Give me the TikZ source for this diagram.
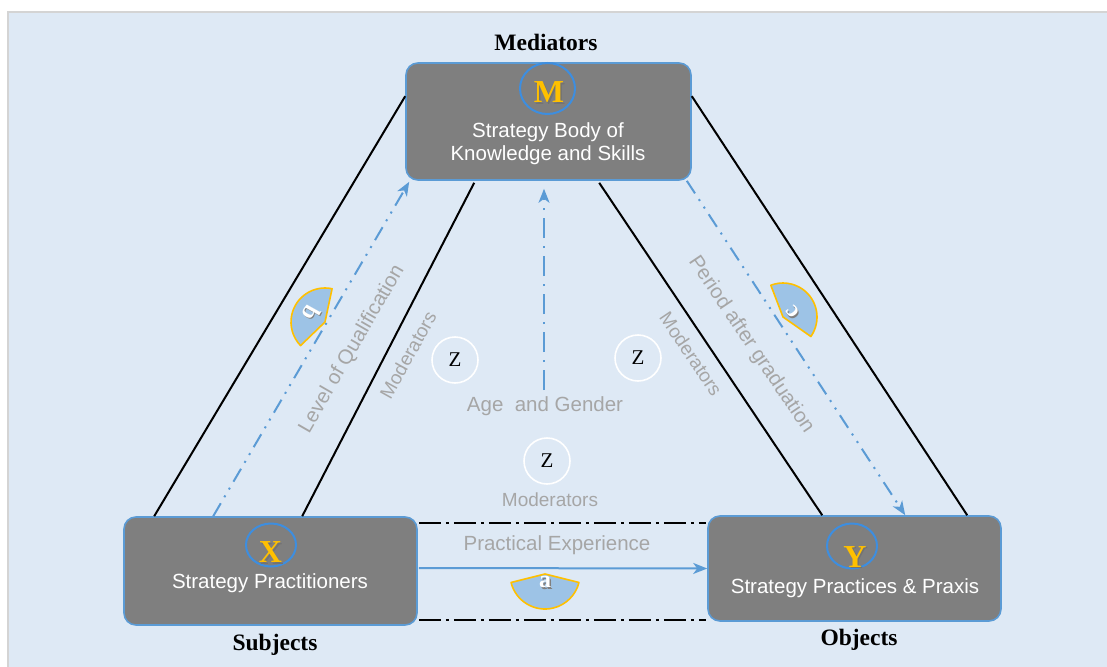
\documentclass[tikz,border=0pt]{standalone}
\usepackage{fontspec}
\setmainfont{Liberation Sans}
\newfontfamily\serifface{Liberation Serif}
\usetikzlibrary{arrows.meta,calc,shapes.geometric}

\definecolor{bgblue}{HTML}{DEE9F5}
\definecolor{framegray}{HTML}{D4D4D4}
\definecolor{boxgray}{HTML}{7F7F7F}
\definecolor{edgeblue}{HTML}{5B9BD5}
\definecolor{ringblue}{HTML}{3D8EE0}
\definecolor{gold}{HTML}{FFC000}
\definecolor{labelgray}{HTML}{A6A6A6}
\definecolor{sectorblue}{HTML}{9DC3E6}

\tikzset{
  stagebox/.style={draw=edgeblue, line width=1.6pt, fill=boxgray,
    rounded corners=12pt, inner sep=0pt},
  boxtext/.style={text=white, align=center, inner sep=0pt,
    font=\fontsize{20.5}{23}\selectfont},
  ring/.style={ellipse, draw=ringblue, line width=2pt, inner sep=0pt},
  letter/.style={text=gold, inner sep=0pt,
    font=\serifface\bfseries\fontsize{32}{32}\selectfont},
  lettershade/.style={letter, text=black!55},
  rolename/.style={inner sep=0pt, font=\serifface\bfseries\fontsize{23.5}{24}\selectfont},
  zring/.style={circle, draw=white, line width=1.6pt, minimum size=46pt,
    inner sep=0pt, font=\serifface\fontsize{21}{21}\selectfont},
  graylabel/.style={text=labelgray, inner sep=0pt,
    font=\fontsize{20.5}{22}\selectfont},
  modlabel/.style={text=labelgray, inner sep=0pt,
    font=\fontsize{19}{20}\selectfont},
  tie/.style={black, line width=2pt},
  bound/.style={black, line width=2.5pt,
    dash pattern=on 22pt off 5pt on 3pt off 5pt},
  flow/.style={edgeblue, line width=2pt,
    -{Stealth[length=14pt, width=11pt, inset=4pt]}},
  dashdotdot/.style={dash pattern=on 15pt off 7pt on 2pt off 7pt on 2pt off 7pt},
  dashdot/.style={dash pattern=on 20pt off 8pt on 2pt off 8pt},
  sector/.style={fill=sectorblue, draw=gold, line width=1.6pt, line join=round},
  sectorletter/.style={text=white, inner sep=0pt,
    font=\serifface\bfseries\fontsize{24}{24}\selectfont},
  sectorshade/.style={sectorletter, text=black!50},
}

\begin{document}
\begin{tikzpicture}[x=1pt, y=1pt]
\useasboundingbox (0,0) rectangle (1107,-666);

% canvas
\fill[bgblue] (8,-12) rectangle (1120,-680);
\draw[framegray, line width=1.5pt] (8,-680) -- (8,-12) -- (1120,-12);

% the three stages
\node[stagebox, minimum width=285pt, minimum height=117pt] (M) at (548.5,-121.5) {};
\node[stagebox, minimum width=293pt, minimum height=108pt] (X) at (270.5,-571) {};
\node[stagebox, minimum width=293pt, minimum height=105pt] (Y) at (854.5,-568.5) {};

\node[ring, minimum width=55pt, minimum height=51pt] (Mring) at (547.5,-88.5) {};
\node[ring, minimum width=50pt, minimum height=43pt] (Xring) at (271,-545) {};
\node[ring, minimum width=50pt, minimum height=45pt] (Yring) at (852,-546) {};

\node[lettershade] (Mshade) at (550.5,-94) {M};
\node[letter] (Mletter) at (549,-92.5) {M};
\node[lettershade] (Xshade) at (272,-554) {X};
\node[letter] (Xletter) at (270.5,-552.5) {X};
\node[lettershade] (Yshade) at (856.5,-558.5) {Y};
\node[letter] (Yletter) at (855,-557) {Y};

\node[boxtext] (Mtext) at (548,-143.5) {Strategy Body of\\Knowledge and Skills};
\node[boxtext] (Xtext) at (270,-583) {Strategy Practitioners};
\node[boxtext] (Ytext) at (855,-588) {Strategy Practices \& Praxis};

\node[rolename] (Mrole) at (546,-42) {Mediators};
\node[rolename] (Xrole) at (275,-645) {Subjects};
\node[rolename] (Yrole) at (859,-640) {Objects};

% attachment points on the stage borders
\coordinate (XoutL) at ($(X.north west)+(31,0)$);
\coordinate (XinL)  at ($(X.north west)+(179,0)$);
\coordinate (XflowL) at ($(X.north west)+(90,0)$);
\coordinate (MoutL) at ($(M.north west)+(0,-34)$);
\coordinate (MinL)  at ($(M.south west)+(69,-2)$);
\coordinate (MflowL) at ($(M.south west)+(4,-1)$);
\coordinate (MoutR) at ($(M.north east)+(0,-34)$);
\coordinate (MinR)  at ($(M.south west)+(194,-2)$);
\coordinate (MflowR) at ($(M.south east)+(-5,0)$);
\coordinate (YinR)  at ($(Y.north west)+(115,0)$);
\coordinate (YoutR) at ($(Y.north west)+(260,0)$);
\coordinate (YflowR) at ($(Y.north west)+(198,0)$);
\coordinate (Mbase) at ($(M.south)+(-4.5,-8)$);
\coordinate (ageTop) at (544,-390);

% black frame of the triangle
\draw[tie] (XoutL) -- (MoutL);
\draw[tie] (XinL) -- (MinL);
\draw[tie] (MinR) -- (YinR);
\draw[tie] (MoutR) -- (YoutR);
\draw[bound] ($(X.north east)+(1,-7)$) -- ($(Y.north west)+(-1,-8)$);
\draw[bound] ($(X.south east)+(1,6)$) -- ($(Y.south west)+(-1,2)$);

% flows
\draw[flow, dashdotdot] (XflowL) -- (MflowL);
\draw[flow, dashdotdot] (MflowR) -- (YflowR);
\draw[flow, dashdot] (ageTop) -- (Mbase);
\draw[flow] ($(X.east)+(1,3)$) -- (Y.west);

% labels along the flows
\node[graylabel, rotate=60] (qual) at (352,-349) {Level of Qualification};
\node[modlabel, rotate=61] (modL) at (408,-355) {Moderators};
\node[graylabel, rotate=-56] (period) at (751,-345) {Period after graduation};
\node[modlabel, rotate=-56] (modR) at (691,-354) {Moderators};
\node[graylabel] (age) at (545,-406) {Age\ \ and Gender};
\node[modlabel] (modB) at (550,-500) {Moderators};
\node[graylabel] (practice) at (557,-545) {Practical Experience};

% moderator markers
\node[zring] (Z1) at (455,-360) {Z};
\node[zring] (Z2) at (638,-358) {Z};
\node[zring] (Z3) at (547,-461) {Z};

% effect sectors
\draw[sector] (545,-574) -- ++(194:35) arc (194:346:35) -- cycle;
\node[sectorshade] (ashade) at (546.5,-583.5) {a};
\node[sectorletter] (aletter) at (545,-582) {a};

\draw[sector] (325,-322) -- ++(78:34) arc (78:224:34) -- cycle;
\node[sectorshade, rotate=-119] (bshade) at (312,-314.5) {b};
\node[sectorletter, rotate=-119] (bletter) at (311,-313) {b};

\draw[sector] (783,-317) -- ++(-35:34) arc (-35:111:34) -- cycle;
\node[sectorshade, rotate=128] (cshade) at (794,-313.5) {c};
\node[sectorletter, rotate=128] (cletter) at (793,-312) {c};
\end{tikzpicture}
\end{document}
